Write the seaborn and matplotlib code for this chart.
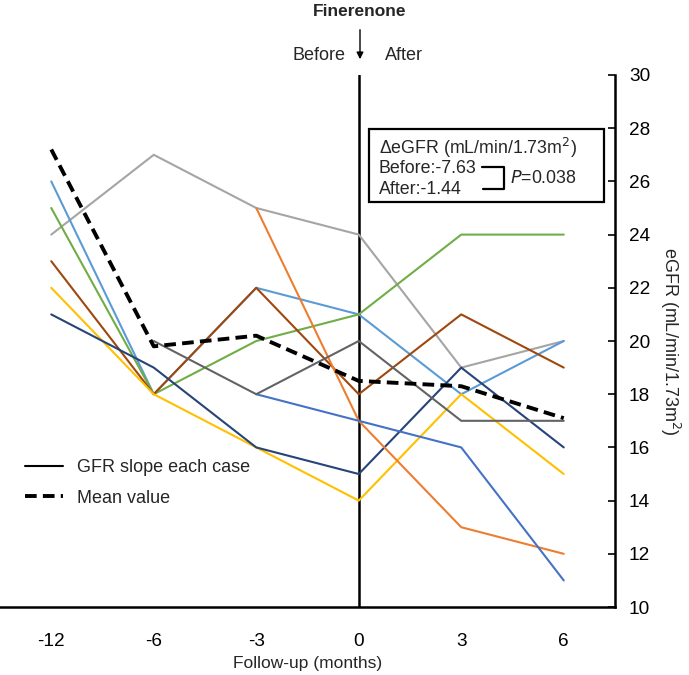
import numpy as np
import pandas as pd
import matplotlib
matplotlib.use("Agg")
import matplotlib.pyplot as plt
from matplotlib.lines import Line2D
import seaborn as sns

sns.set_style("white")
plt.rcParams["font.family"] = ["Liberation Sans", "DejaVu Sans"]

# follow-up time points (months)
months = ["-12", "-6", "-3", "0", "3", "6"]

# eGFR of each case (nan = not measured)
nan = np.nan
case_gray = [24, 27, 25, 24, 19, 20]
case_lightblue = [26, 18, 22, 21, 18, 20]
case_green = [25, 18, 20, 21, 24, 24]
case_brown = [23, 18, 22, 18, 21, 19]
case_yellow = [22, 18, 16, 14, 18, 15]
case_navy = [21, 19, 16, 15, 19, 16]
case_orange = [nan, nan, 25, 17, 13, 12]
case_blue = [nan, nan, 18, 17, 16, 11]
case_darkgray = [nan, 20, 18, 20, 17, 17]

mean_value = [27.2, 19.8, 20.2, 18.5, 18.3, 17.1]

cases = {
    "gray": case_gray, "lightblue": case_lightblue, "green": case_green,
    "brown": case_brown, "yellow": case_yellow, "navy": case_navy,
    "orange": case_orange, "blue": case_blue, "darkgray": case_darkgray,
}
colors = {
    "gray": "#A5A5A5", "lightblue": "#5B9BD5", "green": "#70AD47",
    "brown": "#9E480E", "yellow": "#FFC000", "navy": "#264478",
    "orange": "#ED7D31", "blue": "#4472C4", "darkgray": "#636363",
}

rows = []
for name, vals in cases.items():
    for i, v in enumerate(vals):
        rows.append({"case": name, "pos": i, "egfr": v})
df = pd.DataFrame(rows).dropna()
df_mean = pd.DataFrame({"pos": range(len(months)), "egfr": mean_value})

fig = plt.figure(figsize=(6.89, 6.75), dpi=100)
ax = fig.add_axes([0.0, 0.1007, 0.8926, 0.7882])

sns.lineplot(data=df, x="pos", y="egfr", hue="case", palette=colors,
             linewidth=1.5, legend=False, ax=ax)
sns.lineplot(data=df_mean, x="pos", y="egfr", color="black",
             linewidth=2.8, linestyle=(0, (3, 1.6)), ax=ax)

# treatment start line
ax.axvline(3, color="black", linewidth=1.8, zorder=1)

ax.set_xlim(-0.5, 5.5)
ax.set_ylim(10, 30)
ax.set_xticks(range(len(months)))
ax.set_xticklabels(months)
ax.set_yticks(range(10, 31, 2))
ax.yaxis.tick_right()
ax.yaxis.set_label_position("right")
ax.tick_params(direction="in", length=5, width=1.2, labelsize=13.7,
               colors="black", pad=10)
ax.tick_params(axis="x", pad=19)
ax.spines["left"].set_visible(False)
ax.spines["top"].set_visible(False)
for s in ["right", "bottom"]:
    ax.spines[s].set_linewidth(1.8)
    ax.spines[s].set_color("black")

ax.set_xlabel("Follow-up (months)", fontsize=12.5, labelpad=4)
ax.set_ylabel("eGFR (mL/min/1.73m$^2$)", fontsize=13, rotation=-90,
              labelpad=23)

# legend
handles = [Line2D([], [], color="black", linewidth=1.5),
           Line2D([], [], color="black", linewidth=2.8, linestyle=(0, (3, 1.6)))]
ax.legend(handles, ["GFR slope each case", "Mean value"], loc="lower left",
          bbox_to_anchor=(0.015, 0.158), frameon=False, fontsize=13,
          handlelength=2.1, handletextpad=0.75, labelspacing=0.75)

# header annotation
fig.text(360 / 689, 1 - 11 / 675, "Finerenone", ha="center", va="center",
         fontsize=12.5, fontweight="bold")
ax.annotate("", xy=(360 / 689, 1 - 62 / 675), xytext=(360 / 689, 1 - 27 / 675),
            xycoords="figure fraction", textcoords="figure fraction",
            arrowprops=dict(arrowstyle="-|>", color="black", lw=1.0,
                            mutation_scale=10))
fig.text(346 / 689, 1 - 56 / 675, "Before", ha="right", va="center", fontsize=13)
fig.text(385 / 689, 1 - 56 / 675, "After", ha="left", va="center", fontsize=13)

# delta eGFR box
ax.add_patch(plt.Rectangle((3.1, 25.23), 2.29, 2.74, fill=False, edgecolor="black",
                           linewidth=1.6, zorder=5))
ax.text(3.196, 27.26, "ΔeGFR (mL/min/1.73m$^2$)", fontsize=12.8, va="center")
ax.text(3.196, 26.5, "Before:-7.63", fontsize=12.8, va="center")
ax.text(3.196, 25.68, "After:-1.44", fontsize=12.8, va="center")
ax.plot([4.2, 4.42, 4.42, 4.21], [26.54, 26.54, 25.71, 25.71], color="black",
        linewidth=1.6, zorder=5)
ax.text(4.48, 26.1, "$\\it{P}$=0.038", fontsize=12.8, va="center")

fig.savefig("out.png", dpi=100)
